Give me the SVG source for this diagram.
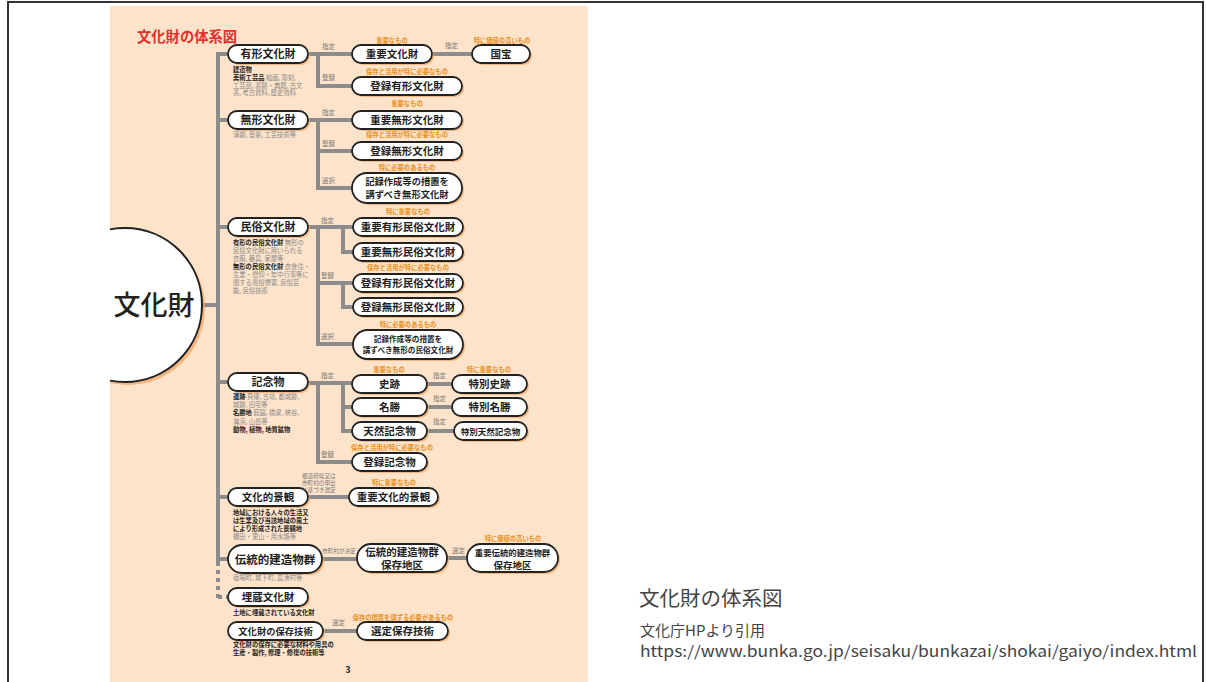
<svg xmlns="http://www.w3.org/2000/svg" width="1206" height="682" viewBox="0 0 1206 682">
<style>
text{font-family:"Noto Sans CJK JP","Noto Sans",sans-serif}
.pill{fill:#fff;stroke:#222;stroke-width:1.8}
.sh{fill:#f2a865;opacity:.75}
.nt{font-weight:700;font-size:10.5px;fill:#1e1e1e;text-anchor:middle}
.ol{font-weight:700;font-size:6.3px;fill:#e8901c;text-anchor:middle}
.sl{font-size:6.5px;fill:#777}
.ds{font-size:6.3px;fill:#8a8a8a}
.db{font-size:6.3px;fill:#222;font-weight:700}
.ln{stroke:#8c8c8c;stroke-width:4;fill:none}
.cap{fill:#444}
</style>
<defs>
<clipPath id="page"><rect x="110" y="6" width="478" height="676"/></clipPath>
</defs>
<rect x="0" y="0" width="1206" height="682" fill="#fff"/>
<rect x="8" y="2" width="1195" height="700" fill="none" stroke="#333" stroke-width="2"/>
<rect id="page-bg" x="110" y="6" width="478" height="676" fill="#fde3c9"/>
<text x="137" y="42" font-size="14.3" font-weight="700" fill="#e2312c">文化財の体系図</text>

<g id="connectors">
<path class="ln" d="M202,305 H218 M218,52 V562 M218,54 H228 M218,120 H228 M218,227 H228 M218,382 H228 M218,497 H228 M218,559 H228"/>
<path class="ln" d="M218,562 V601 M218,597 H228" stroke-dasharray="4 4"/>
<path class="ln" d="M308,54 H352 M318,54 V86 H352 M432,54 H472"/>
<path class="ln" d="M308,120 H352 M318,120 V188 H352 M318,151 H352"/>
<path class="ln" d="M308,227 H353 M318,227 V344 H353 M318,283 H353 M343,227 V252 H353 M343,283 V307 H353"/>
<path class="ln" d="M308,383 H352 M318,383 V462 H352 M343,383 V431 H352 M343,407 H352 M427,384 H452 M427,407 H452 M427,431 H454"/>
<path class="ln" d="M308,497 H349 M322,559 H357 M447,558 H467 M323,631 H357"/>
<text class="sl" x="322" y="49">指定</text>
<text class="sl" x="322" y="80">登録</text>
<text class="sl" x="445" y="48">指定</text>
<text class="sl" x="322" y="115">指定</text>
<text class="sl" x="322" y="146">登録</text>
<text class="sl" x="322" y="183">選択</text>
<text class="sl" x="321" y="223">指定</text>
<text class="sl" x="321" y="278">登録</text>
<text class="sl" x="321" y="339">選択</text>
<text class="sl" x="321" y="378">指定</text>
<text class="sl" x="433" y="378">指定</text>
<text class="sl" x="433" y="401">指定</text>
<text class="sl" x="433" y="424">指定</text>
<text class="sl" x="321" y="457">登録</text>
<text class="sl" x="302" y="478" style="font-size:5.6px">都道府県又は</text>
<text class="sl" x="302" y="485" style="font-size:5.6px">市町村の申出</text>
<text class="sl" x="302" y="492" style="font-size:5.6px">に基づき選定</text>
<text class="sl" x="322" y="553" style="font-size:5.6px">市町村が決定</text>
<text class="sl" x="452" y="553">選定</text>
<text class="sl" x="332" y="625">選定</text>
</g>

<g id="root">
<g clip-path="url(#page)">
<circle cx="128" cy="308" r="77" fill="#f2a865" opacity=".75"/>
<circle cx="125" cy="305" r="77" fill="#fff" stroke="#222" stroke-width="2"/>
</g>
<text x="154" y="315" font-size="27" font-weight="500" fill="#222" text-anchor="middle">文化財</text>
</g>

<g id="n-yukei">
<rect class="sh" x="230" y="47" width="80" height="18" rx="9"/>
<rect class="pill" x="228" y="45" width="80" height="18" rx="9"/>
<text class="nt" x="268" y="58" style="font-size:11px">有形文化財</text>
<text class="db" x="233" y="72">建造物</text>
<text x="233" y="80"><tspan class="db">美術工芸品</tspan><tspan class="ds"> 絵画, 彫刻,</tspan></text>
<text class="ds" x="233" y="87.5">工芸品, 書跡・典籍, 古文</text>
<text class="ds" x="233" y="95">書, 考古資料, 歴史資料</text>
</g>
<g id="n-juyo-bunkazai">
<rect class="sh" x="354" y="47" width="80" height="18" rx="9"/>
<rect class="pill" x="352" y="45" width="80" height="18" rx="9"/>
<text class="nt" x="392" y="58">重要文化財</text>
<text class="ol" x="392" y="43">重要なもの</text>
</g>
<g id="n-kokuho">
<rect class="sh" x="474" y="47" width="58" height="18" rx="9"/>
<rect class="pill" x="472" y="45" width="58" height="18" rx="9"/>
<text class="nt" x="501" y="58">国宝</text>
<text class="ol" x="502" y="43">特に価値の高いもの</text>
</g>
<g id="n-toroku-yukei">
<rect class="sh" x="354" y="79" width="110" height="18" rx="9"/>
<rect class="pill" x="352" y="77" width="110" height="18" rx="9"/>
<text class="nt" x="407" y="90">登録有形文化財</text>
<text class="ol" x="407" y="74">保存と活用が特に必要なもの</text>
</g>

<g id="n-mukei">
<rect class="sh" x="230" y="113" width="80" height="18" rx="9"/>
<rect class="pill" x="228" y="111" width="80" height="18" rx="9"/>
<text class="nt" x="268" y="124" style="font-size:11px">無形文化財</text>
<text class="ds" x="233" y="137">演劇, 音楽, 工芸技術等</text>
</g>
<g id="n-juyo-mukei">
<rect class="sh" x="354" y="113" width="110" height="18" rx="9"/>
<rect class="pill" x="352" y="111" width="110" height="18" rx="9"/>
<text class="nt" x="407" y="124">重要無形文化財</text>
<text class="ol" x="407" y="106">重要なもの</text>
</g>
<g id="n-toroku-mukei">
<rect class="sh" x="354" y="144" width="110" height="18" rx="9"/>
<rect class="pill" x="352" y="142" width="110" height="18" rx="9"/>
<text class="nt" x="407" y="155">登録無形文化財</text>
<text class="ol" x="407" y="137">保存と活用が特に必要なもの</text>
</g>
<g id="n-kiroku-mukei">
<rect class="sh" x="354" y="175" width="110" height="30" rx="15"/>
<rect class="pill" x="352" y="173" width="110" height="30" rx="15"/>
<text class="nt" x="407" y="185" style="font-size:9.3px">記録作成等の措置を</text>
<text class="nt" x="407" y="197.5" style="font-size:9.3px">講ずべき無形文化財</text>
<text class="ol" x="407" y="170">特に必要のあるもの</text>
</g>

<g id="n-minzoku">
<rect class="sh" x="230" y="220" width="80" height="18" rx="9"/>
<rect class="pill" x="228" y="218" width="80" height="18" rx="9"/>
<text class="nt" x="268" y="231" style="font-size:11px">民俗文化財</text>
<text x="233" y="245"><tspan class="db">有形の民俗文化財</tspan><tspan class="ds"> 無形の</tspan></text>
<text class="ds" x="233" y="253">民俗文化財に用いられる</text>
<text class="ds" x="233" y="261">衣服, 器具, 家屋等</text>
<text x="233" y="269"><tspan class="db">無形の民俗文化財</tspan><tspan class="ds"> 衣食住・</tspan></text>
<text class="ds" x="233" y="277">生業・信仰・年中行事等に</text>
<text class="ds" x="233" y="285">関する風俗慣習, 民俗芸</text>
<text class="ds" x="233" y="293">能, 民俗技術</text>
</g>
<g id="n-juyo-yukei-minzoku">
<rect class="sh" x="355" y="220" width="110" height="18" rx="9"/>
<rect class="pill" x="353" y="218" width="110" height="18" rx="9"/>
<text class="nt" x="408" y="231">重要有形民俗文化財</text>
<text class="ol" x="408" y="214">特に重要なもの</text>
</g>
<g id="n-juyo-mukei-minzoku">
<rect class="sh" x="355" y="245" width="110" height="18" rx="9"/>
<rect class="pill" x="353" y="243" width="110" height="18" rx="9"/>
<text class="nt" x="408" y="256">重要無形民俗文化財</text>
</g>
<g id="n-toroku-yukei-minzoku">
<rect class="sh" x="355" y="276" width="110" height="18" rx="9"/>
<rect class="pill" x="353" y="274" width="110" height="18" rx="9"/>
<text class="nt" x="408" y="287">登録有形民俗文化財</text>
<text class="ol" x="408" y="270">保存と活用が特に必要なもの</text>
</g>
<g id="n-toroku-mukei-minzoku">
<rect class="sh" x="355" y="300" width="110" height="18" rx="9"/>
<rect class="pill" x="353" y="298" width="110" height="18" rx="9"/>
<text class="nt" x="408" y="311">登録無形民俗文化財</text>
</g>
<g id="n-kiroku-minzoku">
<rect class="sh" x="355" y="332" width="110" height="29" rx="14.5"/>
<rect class="pill" x="353" y="330" width="110" height="29" rx="14.5"/>
<text class="nt" x="408" y="342" style="font-size:7.6px">記録作成等の措置を</text>
<text class="nt" x="408" y="353" style="font-size:7.6px">講ずべき無形の民俗文化財</text>
<text class="ol" x="408" y="327">特に必要のあるもの</text>
</g>

<g id="n-kinenbutsu">
<rect class="sh" x="230" y="375" width="80" height="18" rx="9"/>
<rect class="pill" x="228" y="373" width="80" height="18" rx="9"/>
<text class="nt" x="268" y="386" style="font-size:11px">記念物</text>
<text x="233" y="399"><tspan class="db">遺跡</tspan><tspan class="ds"> 貝塚, 古墳, 都城跡,</tspan></text>
<text class="ds" x="233" y="407">城跡, 旧宅等</text>
<text x="233" y="415"><tspan class="db">名勝地</tspan><tspan class="ds"> 庭園, 橋梁, 峡谷,</tspan></text>
<text class="ds" x="233" y="424">海浜, 山岳等</text>
<text class="db" x="233" y="432">動物, 植物, 地質鉱物</text>
</g>
<g id="n-shiseki">
<rect class="sh" x="354" y="377" width="75" height="18" rx="9"/>
<rect class="pill" x="352" y="375" width="75" height="18" rx="9"/>
<text class="nt" x="389.5" y="388">史跡</text>
<text class="ol" x="389" y="372">重要なもの</text>
</g>
<g id="n-tokubetsu-shiseki">
<rect class="sh" x="454" y="377" width="75" height="18" rx="9"/>
<rect class="pill" x="452" y="375" width="75" height="18" rx="9"/>
<text class="nt" x="489.5" y="388">特別史跡</text>
<text class="ol" x="489" y="372">特に重要なもの</text>
</g>
<g id="n-meisho">
<rect class="sh" x="354" y="400" width="75" height="18" rx="9"/>
<rect class="pill" x="352" y="398" width="75" height="18" rx="9"/>
<text class="nt" x="389.5" y="411">名勝</text>
</g>
<g id="n-tokubetsu-meisho">
<rect class="sh" x="454" y="400" width="75" height="18" rx="9"/>
<rect class="pill" x="452" y="398" width="75" height="18" rx="9"/>
<text class="nt" x="489.5" y="411">特別名勝</text>
</g>
<g id="n-tennen">
<rect class="sh" x="354" y="424" width="75" height="18" rx="9"/>
<rect class="pill" x="352" y="422" width="75" height="18" rx="9"/>
<text class="nt" x="389.5" y="435">天然記念物</text>
</g>
<g id="n-tokubetsu-tennen">
<rect class="sh" x="456" y="424" width="73" height="18" rx="9"/>
<rect class="pill" x="454" y="422" width="73" height="18" rx="9"/>
<text class="nt" x="490.5" y="434.5" style="font-size:8.5px">特別天然記念物</text>
</g>
<g id="n-toroku-kinen">
<rect class="sh" x="354" y="455" width="75" height="18" rx="9"/>
<rect class="pill" x="352" y="453" width="75" height="18" rx="9"/>
<text class="nt" x="389.5" y="466">登録記念物</text>
<text class="ol" x="392" y="450">保存と活用が特に必要なもの</text>
</g>

<g id="n-keikan">
<rect class="sh" x="230" y="490" width="80" height="18" rx="9"/>
<rect class="pill" x="228" y="488" width="80" height="18" rx="9"/>
<text class="nt" x="268" y="501">文化的景観</text>
<text class="db" x="233" y="515">地域における人々の生活又</text>
<text class="db" x="233" y="523">は生業及び当該地域の風土</text>
<text class="db" x="233" y="531">により形成された景観地</text>
<text class="ds" x="233" y="539">棚田・里山・用水路等</text>
</g>
<g id="n-juyo-keikan">
<rect class="sh" x="351" y="490" width="89" height="18" rx="9"/>
<rect class="pill" x="349" y="488" width="89" height="18" rx="9"/>
<text class="nt" x="393.5" y="501">重要文化的景観</text>
<text class="ol" x="394" y="485">特に重要なもの</text>
</g>

<g id="n-dentoken">
<rect class="sh" x="230" y="547" width="94" height="28" rx="14"/>
<rect class="pill" x="228" y="545" width="94" height="28" rx="14"/>
<text class="nt" x="275" y="563.5" style="font-size:11.5px">伝統的建造物群</text>
<text class="ds" x="233" y="580">宿場町, 城下町, 農漁村等</text>
</g>
<g id="n-hozonchiku">
<rect class="sh" x="359" y="546" width="90" height="28" rx="14"/>
<rect class="pill" x="357" y="544" width="90" height="28" rx="14"/>
<text class="nt" x="402" y="556">伝統的建造物群</text>
<text class="nt" x="402" y="569">保存地区</text>
</g>
<g id="n-juyo-hozonchiku">
<rect class="sh" x="469" y="546" width="91" height="28" rx="14"/>
<rect class="pill" x="467" y="544" width="91" height="28" rx="14"/>
<text class="nt" x="512.5" y="555.5" style="font-size:8.4px">重要伝統的建造物群</text>
<text class="nt" x="512.5" y="568.5" style="font-size:9.5px">保存地区</text>
<text class="ol" x="513" y="541">特に価値の高いもの</text>
</g>

<g id="n-maizo">
<rect class="sh" x="230" y="590" width="80" height="18" rx="9"/>
<rect class="pill" x="228" y="588" width="80" height="18" rx="9"/>
<text class="nt" x="268" y="601">埋蔵文化財</text>
<text class="db" x="233" y="615">土地に埋蔵されている文化財</text>
</g>

<g id="n-hozongijutsu">
<rect class="sh" x="230" y="624" width="95" height="18" rx="9"/>
<rect class="pill" x="228" y="622" width="95" height="18" rx="9"/>
<text class="nt" x="275.5" y="634.5" style="font-size:9.3px">文化財の保存技術</text>
<text class="db" x="233" y="647">文化財の保存に必要な材料や用具の</text>
<text class="db" x="233" y="655">生産・製作, 修理・修復の技術等</text>
</g>
<g id="n-sentei">
<rect class="sh" x="359" y="624" width="91" height="18" rx="9"/>
<rect class="pill" x="357" y="622" width="91" height="18" rx="9"/>
<text class="nt" x="402.5" y="635">選定保存技術</text>
<text class="ol" x="403" y="620">保存の措置を講ずる必要があるもの</text>
</g>

<text x="348" y="673" font-size="9" font-weight="700" fill="#222" text-anchor="middle">3</text>

<g id="caption">
<text class="cap" x="639" y="606" font-size="20.5">文化財の体系図</text>
<text class="cap" x="640" y="636" font-size="15">文化庁HPより引用</text>
<text class="cap" x="640" y="657" font-size="15" textLength="557" lengthAdjust="spacingAndGlyphs">https://www.bunka.go.jp/seisaku/bunkazai/shokai/gaiyo/index.html</text>
</g>
</svg>
